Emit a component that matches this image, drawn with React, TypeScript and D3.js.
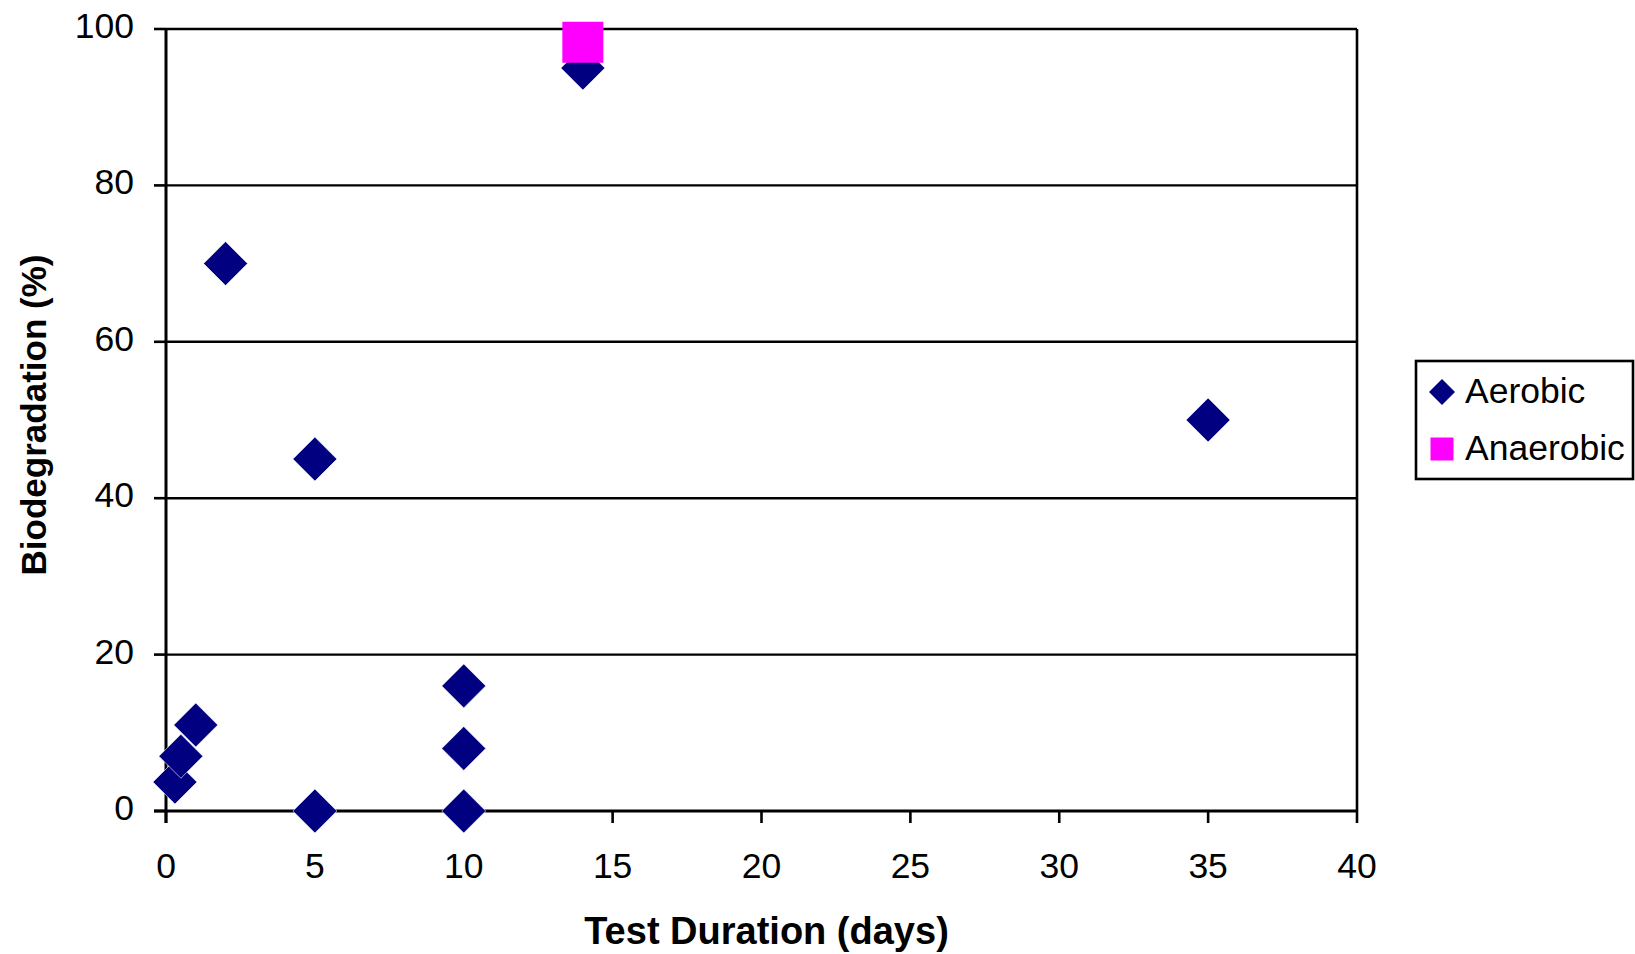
import React, { useEffect, useRef } from 'react';
import * as d3 from 'd3';

// test duration (days) vs biodegradation (%)
const aerobicDays = [0.3, 0.5, 1, 2, 5, 5, 10, 10, 10, 14, 35];
const aerobicPct = [3.7, 7, 11, 70, 45, 0, 16, 8, 0, 95, 50];
const anaerobicDays = [14];
const anaerobicPct = [98.3];

const xTicks = [0, 5, 10, 15, 20, 25, 30, 35, 40];
const yTicks = [0, 20, 40, 60, 80, 100];
const seriesNames = ['Aerobic', 'Anaerobic'];
const seriesColors = ['#000080', '#FF00FF'];

const App = () => {
  const chartRef = useRef<SVGSVGElement>(null);

  useEffect(() => {
    const width = 1635;
    const height = 954;
    const margin = { left: 166, right: 278, top: 29, bottom: 143 };
    const font = 'Arial, "Liberation Sans", sans-serif';

    const svg = d3.select(chartRef.current);
    svg.selectAll('*').remove();
    svg.attr('width', width).attr('height', height);

    const x = d3.scaleLinear().domain([0, 40]).range([margin.left, width - margin.right]);
    const y = d3.scaleLinear().domain([0, 100]).range([height - margin.bottom, margin.top]);

    const x0 = x(0), x1 = x(40), y0 = y(0), y1 = y(100);

    // gridlines
    svg.append('g')
      .selectAll('line')
      .data(yTicks.filter(d => d > 0))
      .enter()
      .append('line')
      .attr('x1', x0).attr('x2', x1)
      .attr('y1', d => y(d)).attr('y2', d => y(d))
      .attr('stroke', '#000').attr('stroke-width', 2.4);

    // right border
    svg.append('line')
      .attr('x1', x1).attr('x2', x1).attr('y1', y1).attr('y2', y0)
      .attr('stroke', '#000').attr('stroke-width', 2.6);

    // y axis
    const yAxis = svg.append('g');
    yAxis.append('line')
      .attr('x1', x0).attr('x2', x0).attr('y1', y1).attr('y2', y0 + 12)
      .attr('stroke', '#000').attr('stroke-width', 3);
    yAxis.selectAll('line.tick')
      .data(yTicks)
      .enter()
      .append('line')
      .attr('class', 'tick')
      .attr('x1', x0 - 12).attr('x2', x0)
      .attr('y1', d => y(d)).attr('y2', d => y(d))
      .attr('stroke', '#000').attr('stroke-width', 2.6);
    yAxis.selectAll('text')
      .data(yTicks)
      .enter()
      .append('text')
      .attr('x', 134)
      .attr('y', d => y(d) + 9)
      .attr('text-anchor', 'end')
      .attr('font-family', font)
      .attr('font-size', 35.5)
      .text(d => d);

    // x axis
    const xAxis = svg.append('g');
    xAxis.append('line')
      .attr('x1', x0 - 12).attr('x2', x1).attr('y1', y0).attr('y2', y0)
      .attr('stroke', '#000').attr('stroke-width', 3);
    xAxis.selectAll('line.tick')
      .data(xTicks)
      .enter()
      .append('line')
      .attr('class', 'tick')
      .attr('x1', d => x(d)).attr('x2', d => x(d))
      .attr('y1', y0).attr('y2', y0 + 12)
      .attr('stroke', '#000').attr('stroke-width', 2.6);
    xAxis.selectAll('text')
      .data(xTicks)
      .enter()
      .append('text')
      .attr('x', d => x(d))
      .attr('y', 878)
      .attr('text-anchor', 'middle')
      .attr('font-family', font)
      .attr('font-size', 35.5)
      .text(d => d);

    // axis titles
    svg.append('text')
      .attr('x', (x0 + x1) / 2 + 5)
      .attr('y', 944)
      .attr('text-anchor', 'middle')
      .attr('font-family', font)
      .attr('font-weight', 'bold')
      .attr('font-size', 38)
      .text('Test Duration (days)');

    svg.append('text')
      .attr('transform', `translate(46, ${(y0 + y1) / 2 - 5}) rotate(-90)`)
      .attr('text-anchor', 'middle')
      .attr('font-family', font)
      .attr('font-weight', 'bold')
      .attr('font-size', 35)
      .text('Biodegradation (%)');

    const diamond = (r: number) => `M0,${-r}L${r},0L0,${r}L${-r},0Z`;
    const square = (s: number) => `M${-s / 2},${-s / 2}h${s}v${s}h${-s}Z`;

    // aerobic points
    svg.append('g')
      .selectAll('path')
      .data(aerobicDays.map((d, i) => [d, aerobicPct[i]]))
      .enter()
      .append('path')
      .attr('transform', d => `translate(${x(d[0])}, ${y(d[1])})`)
      .attr('d', diamond(22))
      .attr('fill', seriesColors[0])
      .attr('stroke', '#fff')
      .attr('stroke-width', 0.6);

    // anaerobic points
    svg.append('g')
      .selectAll('path')
      .data(anaerobicDays.map((d, i) => [d, anaerobicPct[i]]))
      .enter()
      .append('path')
      .attr('transform', d => `translate(${x(d[0])}, ${y(d[1])})`)
      .attr('d', square(41))
      .attr('fill', seriesColors[1]);

    // legend
    const legend = svg.append('g');
    legend.append('rect')
      .attr('x', 1416).attr('y', 361)
      .attr('width', 217).attr('height', 118)
      .attr('fill', '#fff').attr('stroke', '#000').attr('stroke-width', 2.6);
    const items = legend.selectAll('g.item')
      .data(seriesNames)
      .enter()
      .append('g')
      .attr('class', 'item')
      .attr('transform', (d, i) => `translate(1442, ${392 + i * 57})`);
    items.append('path')
      .attr('d', (d, i) => (i === 0 ? diamond(13) : square(23)))
      .attr('fill', (d, i) => seriesColors[i]);
    items.append('text')
      .attr('x', 23)
      .attr('y', 11)
      .attr('font-family', font)
      .attr('font-size', 35.5)
      .text(d => d);
  }, []);

  return (
    <svg
      ref={chartRef}
      style={{ position: 'absolute', left: 0, top: 0, display: 'block', background: '#fff' }}
    />
  );
};

export default App;
